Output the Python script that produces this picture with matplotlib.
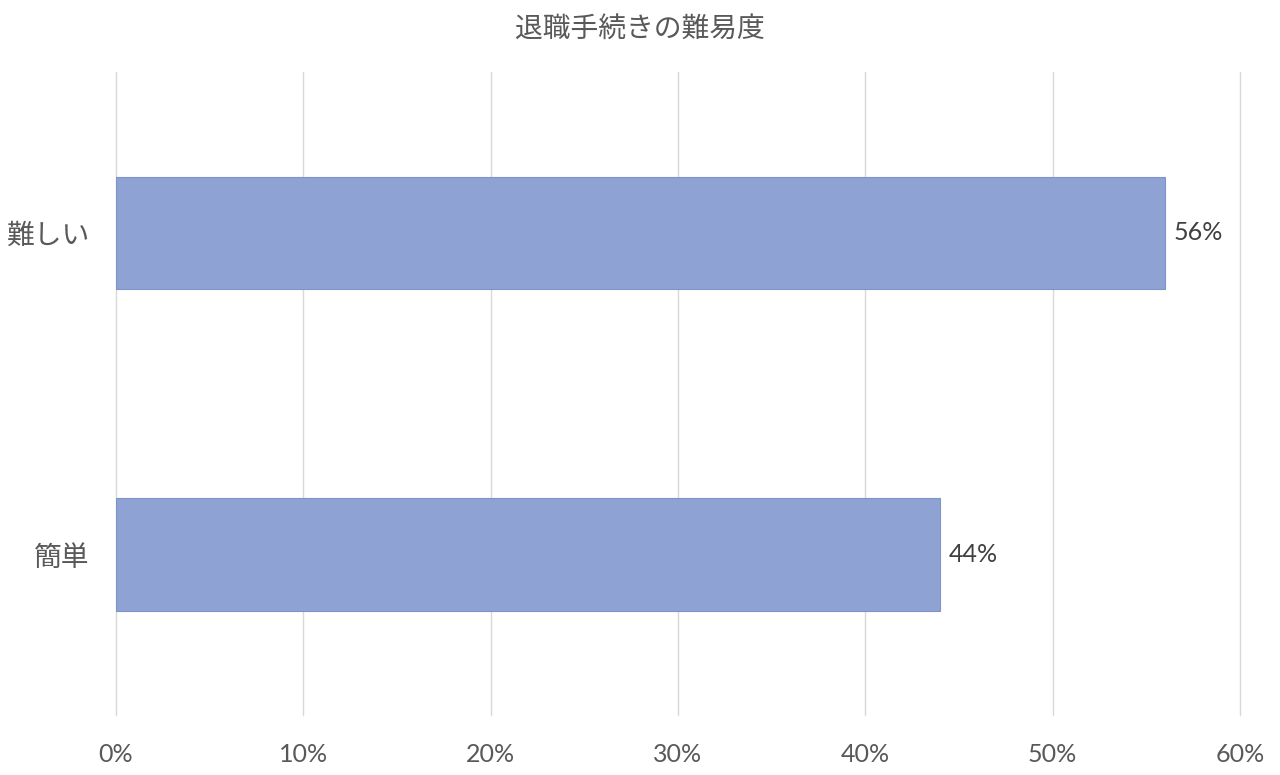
import matplotlib
matplotlib.use('Agg')
import matplotlib.pyplot as plt
from matplotlib.ticker import FuncFormatter

plt.rcParams['font.family'] = ['Noto Sans CJK JP', 'DejaVu Sans']

# data
categories = ['簡単', '難しい']
values = [44, 56]
title = '退職手続きの難易度'

bar_color = '#8EA2D4'
edge_color = '#7E93CB'
num_font = ['Lato', 'Noto Sans CJK JP']

fig = plt.figure(figsize=(12.8, 7.75), dpi=100)
ax = fig.add_axes([0.0906, 0.0774, 0.8781, 0.8296])

ypos = list(range(len(categories)))
ax.barh(ypos, values, height=0.35, color=bar_color, edgecolor=edge_color, linewidth=0.8, zorder=3)

for y, v in zip(ypos, values):
    ax.text(v + 0.45, y, f'{v}%', va='center', ha='left', fontsize=18,
            color='#404040', family=num_font)

ax.set_xlim(0, 60)
ax.set_ylim(-0.5, 1.5)
ax.set_xticks(range(0, 61, 10))
ax.xaxis.set_major_formatter(FuncFormatter(lambda x, p: f'{int(x)}%'))
ax.set_yticks(ypos)
ax.set_yticklabels(categories)

ax.grid(axis='x', color='#D9D9D9', linewidth=1, zorder=0)
for gl in ax.get_xgridlines():
    gl.set_clip_on(False)
for s in ax.spines.values():
    s.set_visible(False)
ax.tick_params(axis='both', length=0, colors='#595959')
ax.tick_params(axis='x', pad=20, labelsize=18)
ax.tick_params(axis='y', pad=19, labelsize=20)
for lbl in ax.get_xticklabels():
    lbl.set_family(num_font)

fig.text(0.5, 0.962, title, ha='center', va='center', fontsize=20, color='#595959')

fig.savefig('out.png', dpi=100)
